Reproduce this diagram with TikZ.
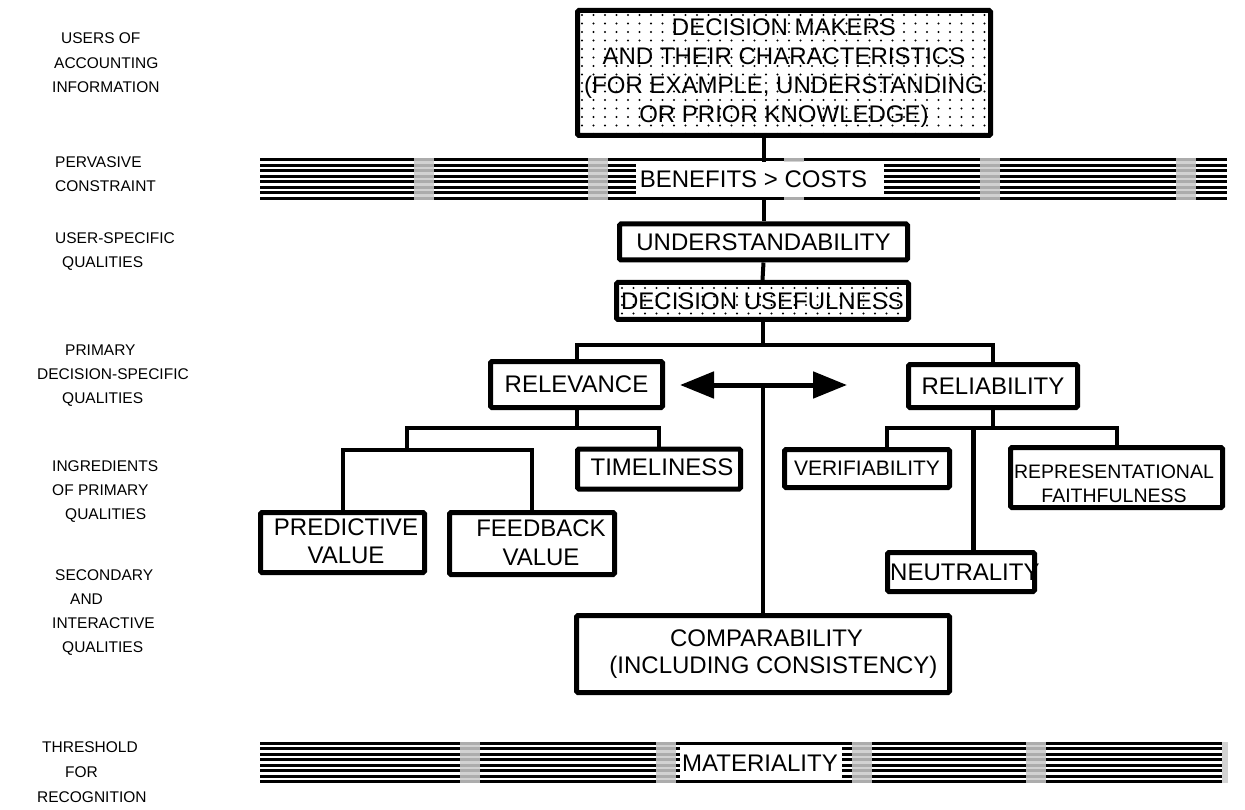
\documentclass[tikz,border=0pt]{standalone}
\usepackage{fontspec}
\setmainfont{Liberation Sans}
\usetikzlibrary{arrows.meta}

% striped band: #1 = left x, #2 = right x, #3 = top y
\newcommand\stripeband[3]{%
  \foreach \i in {0,...,7}
    \draw[band line] (#1,#3+\i*5.47) -- (#2,#3+\i*5.47);
}
% grey patch across a band: #1 = left x, #2 = top y
\newcommand\greypatch[2]{%
  \fill[gray!35] (#1,#2-1.5) rectangle (#1+20,#2+7*5.47+1.5);
  \foreach \i in {0,...,7}
    \draw[band line, gray!65] (#1,#2+\i*5.47) -- (#1+20,#2+\i*5.47);
}
% dot screen: #1 = left x, #2 = top y, #3 = columns, #4 = rows
\newcommand\dotscreen[4]{%
  \foreach \c in {0,...,#3}
    \foreach \r in {0,...,#4}
      \fill (#1+\c*11.5,#2+\r*8.5) circle (1.1);
}

\begin{document}
\begin{tikzpicture}[x=1pt,y=-1pt,
  box/.style={draw, line width=5pt, rounded corners=1.5pt, inner sep=0pt,
    font=\fontsize{24}{29}\selectfont, align=center},
  txt/.style={inner sep=0pt, font=\fontsize{24}{29}\selectfont, align=center},
  conn/.style={line width=4pt},
  band line/.style={line width=3pt},
  lab/.style={anchor=base west, inner sep=0pt, font=\fontsize{15.5}{19}\selectfont},
]
\useasboundingbox (0,0) rectangle (1245,810);

% ---------- dot screens behind the shaded boxes ----------
\dotscreen{582}{15}{35}{14}
\dotscreen{622}{288}{24}{3}

% ---------- boxes ----------
\node[box, minimum width=413, minimum height=125] (dm) at (784,73)
  {DECISION MAKERS\\AND THEIR CHARACTERISTICS\\(FOR EXAMPLE, UNDERSTANDING\\OR PRIOR KNOWLEDGE)};
\node[box, minimum width=288, minimum height=36] (und) at (763.5,242) {UNDERSTANDABILITY};
\node[box, minimum width=292, minimum height=37] (du) at (762.5,301) {DECISION USEFULNESS};
\node[box, minimum width=172, minimum height=46] (rel) at (576.5,384.5) {RELEVANCE};
\node[box, minimum width=169, minimum height=43] (rl) at (993,386) {RELIABILITY};
\node[box, minimum width=163, minimum height=40] (tim) at (659,469) {};
\node[txt] (timt) at (662,467) {TIMELINESS};
\node[box, minimum width=165, minimum height=38, font=\fontsize{21}{25}\selectfont] (ver) at (867,468.5) {VERIFIABILITY};
\node[box, minimum width=212, minimum height=60] (rep) at (1116.5,477.5) {};
\node[txt, font=\fontsize{19.5}{24}\selectfont] (rept) at (1114,484) {REPRESENTATIONAL\\FAITHFULNESS};
\node[box, minimum width=164, minimum height=60] (pred) at (342.5,542.5) {};
\node[txt, font=\fontsize{24}{28}\selectfont] (predt) at (346,541) {PREDICTIVE\\VALUE};
\node[box, minimum width=165, minimum height=62] (feed) at (532,543.5) {};
\node[txt, font=\fontsize{24}{29}\selectfont] (feedt) at (541,542.5) {FEEDBACK\\VALUE};
\node[box, minimum width=147, minimum height=39] (neu) at (961,572) {};
\node[txt, anchor=west] (neut) at (890,572) {NEUTRALITY};
\node[box, minimum width=373, minimum height=77] (comp) at (763,654) {};
\node[txt] (compa) at (766.5,638) {COMPARABILITY};
\node[txt] (compb) at (773.5,667) {(INCLUDING CONSISTENCY)};

% ---------- connectors ----------
\coordinate (b1) at (762.5,345);
\coordinate (b2) at (576.5,428);
\coordinate (b3) at (993,428);
\coordinate (j1) at (407,450);
\coordinate (vx) at (887,0);
\coordinate (nx) at (973,0);
\coordinate (aL) at (680,385);
\coordinate (aR) at (847,385);

\draw[conn] (und.north |- dm.south) -- (und.north);
\draw[conn] (und.south) -- (du.north);
\draw[conn] (du.south) -- (b1);
\draw[conn] (rel.north) -- (rel.north |- b1) -- (rl.north |- b1) -- (rl.north);

\draw[conn] (rel.south) -- (b2);
\draw[conn] (j1) -- (j1 |- b2) -| (tim.north);
\draw[conn] (pred.north) -- (pred.north |- j1) -| (feed.north);

\draw[conn] (rl.south) -- (b3);
\draw[conn] (ver.north -| vx) -- (vx |- b3) -| (rep.north);
\draw[line width=5pt] (nx |- b3) -- (nx |- neu.north);

\draw[line width=5pt, {Triangle[length=34pt,width=26pt]}-{Triangle[length=34pt,width=26pt]}] (aL) -- (aR);
\draw[conn] (comp.north) -- (comp.north |- aL);

% ---------- pervasive constraint band ----------
\stripeband{260}{1227}{160}
\greypatch{414}{160}
\greypatch{588}{160}
\greypatch{784}{160}
\greypatch{980}{160}
\greypatch{1176}{160}
\fill[white] (636,161.6) rectangle (884,196.7);
\node[txt] (bc) at (753.5,179) {BENEFITS > COSTS};

% ---------- recognition threshold band ----------
\stripeband{260}{1228}{743.5}
\greypatch{460}{743.5}
\greypatch{656}{743.5}
\greypatch{852}{743.5}
\greypatch{1026}{743.5}
\fill[gray!35] (1222,742) rectangle (1228,783.3);
\fill[white] (680,745.1) rectangle (842,780.2);
\node[txt] (mat) at (760,763) {MATERIALITY};

% ---------- row labels ----------
\node[lab] (l1)  at (61,43.7)  {USERS OF};
\node[lab] (l2)  at (54,68.7)  {ACCOUNTING};
\node[lab] (l3)  at (52,92.7)  {INFORMATION};
\node[lab] (l4)  at (55,167.7) {PERVASIVE};
\node[lab] (l5)  at (55,191.7) {CONSTRAINT};
\node[lab] (l6)  at (55,243.7) {USER-SPECIFIC};
\node[lab] (l7)  at (62,267.7) {QUALITIES};
\node[lab] (l8)  at (65,355.7) {PRIMARY};
\node[lab] (l9)  at (37,379.7) {DECISION-SPECIFIC};
\node[lab] (l10) at (62,403.7) {QUALITIES};
\node[lab] (l11) at (52,471.7) {INGREDIENTS};
\node[lab] (l12) at (52,495.7) {OF PRIMARY};
\node[lab] (l13) at (65,519.7) {QUALITIES};
\node[lab] (l14) at (55,580.7) {SECONDARY};
\node[lab] (l15) at (70,604.7) {AND};
\node[lab] (l16) at (52,628.7) {INTERACTIVE};
\node[lab] (l17) at (62,652.7) {QUALITIES};
\node[lab] (l18) at (42,752.7) {THRESHOLD};
\node[lab] (l19) at (65,777.7) {FOR};
\node[lab] (l20) at (37,802.7) {RECOGNITION};
\end{tikzpicture}
\end{document}
